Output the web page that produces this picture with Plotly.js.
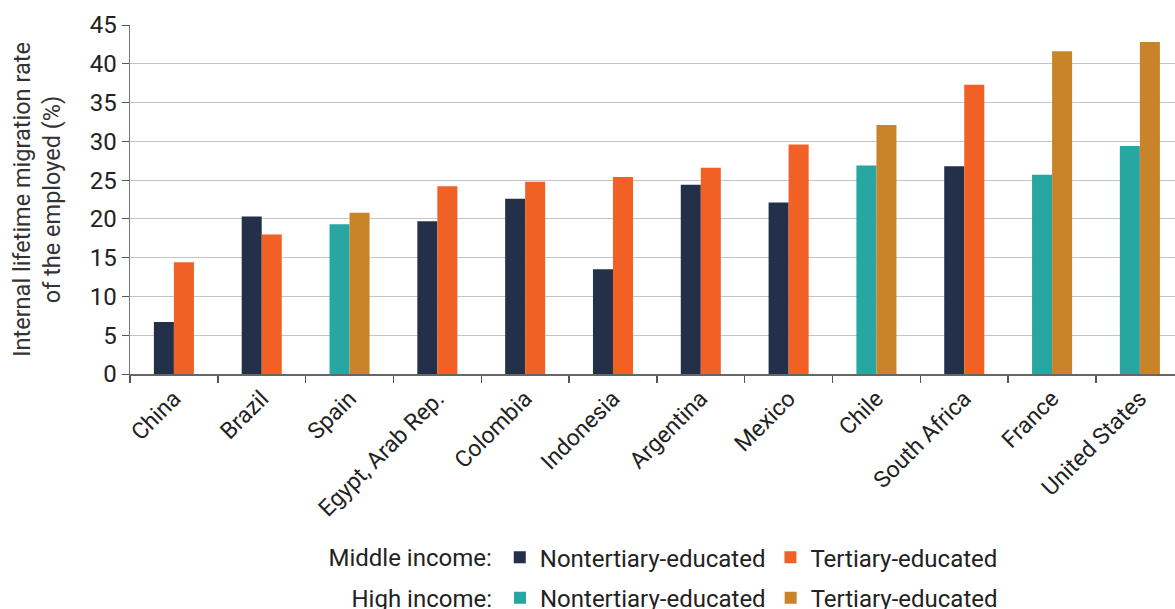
<!DOCTYPE html>
<html>
<head>
<meta charset="utf-8">
<script src="https://cdn.plot.ly/plotly-3.0.1.min.js"></script>
<style>html,body{margin:0;padding:0;background:#fff}#chart{width:1175px;height:609px}</style>
</head>
<body>
<div id="chart"></div>
<script>
const countries = ["China","Brazil","Spain","Egypt, Arab Rep.","Colombia","Indonesia","Argentina","Mexico","Chile","South Africa","France","United States"];
const incomeGroup = ["Middle","Middle","High","Middle","Middle","Middle","Middle","Middle","High","Middle","High","High"];
const nontertiary = [6.7, 20.3, 19.3, 19.7, 22.6, 13.5, 24.4, 22.1, 26.9, 26.8, 25.7, 29.4];
const tertiary = [14.4, 18.0, 20.8, 24.2, 24.8, 25.4, 26.6, 29.6, 32.1, 37.3, 41.6, 42.8];

const colors = {
  MiddleNon: "#243049", MiddleTer: "#F16024",
  HighNon: "#27A6A2", HighTer: "#C9842A"
};
const barW = 0.228;

function pick(arr, grp) { return arr.map((v, i) => incomeGroup[i] === grp ? v : null); }

function mk(name, vals, grp, kind, legendId) {
  return {
    type: "bar", x: countries, y: pick(vals, grp), name: name,
    marker: {color: colors[grp + kind]},
    width: barW, offset: kind === "Non" ? -barW : 0,
    legend: legendId, hoverinfo: "x+y+name"
  };
}

const data = [
  mk("Nontertiary-educated", nontertiary, "Middle", "Non", "legend"),
  mk("Tertiary-educated", tertiary, "Middle", "Ter", "legend"),
  mk("Nontertiary-educated", nontertiary, "High", "Non", "legend2"),
  mk("Tertiary-educated", tertiary, "High", "Ter", "legend2")
];

const fam = "Roboto, 'Noto Sans', sans-serif";
const txt = "#222";
const legFont = {family: fam, size: 24, color: txt};

const layout = {
  width: 1175, height: 609,
  margin: {l: 130, r: 0, t: 25, b: 235, autoexpand: false},
  paper_bgcolor: "#fff", plot_bgcolor: "#fff",
  font: {family: fam, size: 23, color: txt},
  barmode: "overlay",
  showlegend: true,
  xaxis: {
    type: "category", range: [-0.5, 11.4],
    tickangle: -45, tickfont: {family: fam, size: 23, color: txt},
    ticks: "outside", tickson: "boundaries", ticklen: 7, tickcolor: "#555", tickwidth: 1.5,
    showline: true, linecolor: "#666", linewidth: 2,
    showgrid: false, automargin: false
  },
  yaxis: {
    range: [0, 45], dtick: 5, tick0: 0,
    tickfont: {family: fam, size: 24, color: txt}, ticks: "outside", ticklen: 7, tickcolor: "#555",
    showline: true, linecolor: "#777", linewidth: 1.5,
    showgrid: true, gridcolor: "#c4c4c4", gridwidth: 1,
    zeroline: false, automargin: false,
    title: {text: "Internal lifetime migration rate<br>of the employed (%)", font: {family: fam, size: 23.5, color: "#333"}, standoff: 22}
  },
  legend: {
    orientation: "h", x: 0.188, y: -0.526, xanchor: "left", yanchor: "middle",
    title: {text: "Middle income:", side: "left", font: legFont},
    font: legFont,
    itemclick: false, itemdoubleclick: false, traceorder: "normal"
  },
  legend2: {
    orientation: "h", x: 0.21, y: -0.642, xanchor: "left", yanchor: "middle",
    title: {text: "High income:", side: "left", font: legFont},
    font: legFont,
    itemclick: false, itemdoubleclick: false, traceorder: "normal"
  }
};

Plotly.newPlot("chart", data, layout, {displayModeBar: false, staticPlot: true});
</script>
</body>
</html>
